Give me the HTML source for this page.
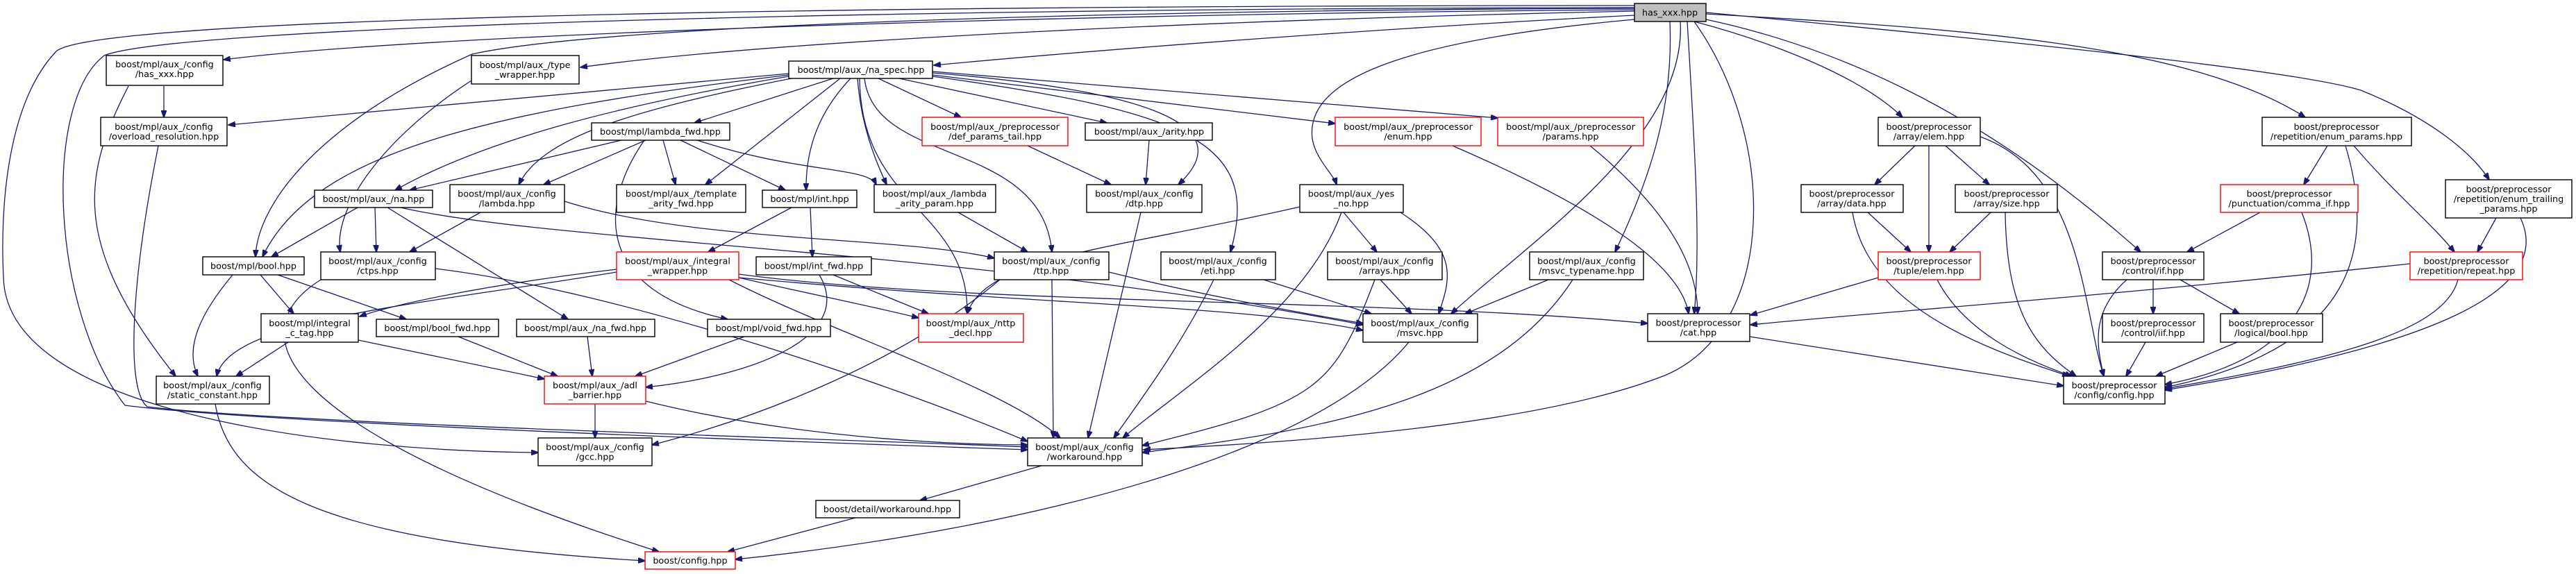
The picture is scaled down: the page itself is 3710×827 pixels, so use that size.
<!DOCTYPE html>
<html><head><meta charset="utf-8"><style>
html,body{margin:0;padding:0;background:#fff;}
svg{display:block;}
.n rect{fill:#fff;stroke:#000;stroke-width:1.4;}
.r rect{fill:#fff;stroke:#ff0000;stroke-width:1.4;}
text{font-family:"DejaVu Sans","Liberation Sans",sans-serif;font-size:12.8px;fill:#000;text-anchor:middle;}
.e path{fill:none;stroke:#191970;stroke-width:1.3;marker-end:url(#ah);}
</style></head><body>
<svg width="3710" height="827" viewBox="0 0 3710 827" xmlns="http://www.w3.org/2000/svg">
<defs><marker id="ah" markerUnits="userSpaceOnUse" markerWidth="11" markerHeight="8" refX="10" refY="4" orient="auto"><path d="M0,0 L11,4 L0,8 z" fill="#191970" stroke="#191970"/></marker></defs>
<g class="e">
<!-- main -->
<path d="M2354,14 C1500,20 600,50 322,86"/>
<path d="M2354,16 C1700,30 1100,60 836,97"/>
<path d="M2354,22 C2000,40 1600,70 1345,94"/>
<path d="M2354,12 C1500,15 850,40 680,78 C450,180 370,300 368,370"/>
<path d="M2354,8 C1200,8 120,25 80,75 C10,150 0,300 5,400 C10,600 500,650 775,652"/>
<path d="M2354,11 C1200,12 250,40 150,80 C60,150 75,450 180,584 C400,612 1250,640 1480,648"/>
<path d="M2440,31 C2550,60 2680,110 2740,169"/>
<path d="M2457,28 C2700,80 2900,200 3083,363"/>
<path d="M2457,20 C2800,40 3150,60 3320,169"/>
<path d="M2457,18 C2900,60 3300,100 3400,130 C3500,170 3560,220 3585,259"/>
<path d="M2440,31 C2560,200 2560,470 2400,540 C2200,620 1800,640 1647,648"/>
<path d="M2405,31 C2410,150 2380,250 2326,363"/>
<path d="M2430,31 C2440,200 2450,350 2440,452"/>
<path d="M2354,28 C2000,60 1880,120 1890,200 C1895,230 1920,250 1925,266"/>
<path d="M2420,31 C2430,200 2200,350 2090,452"/>
<!-- has_xxx config / overload / type_wrapper -->
<path d="M236,124 L236,169"/>
<path d="M185,124 C120,250 100,350 253,542"/>
<path d="M228,210 C190,400 180,560 212,586 C400,610 1300,636 1480,644"/>
<path d="M679,116 C550,200 480,300 490,363"/>
<!-- na_spec -->
<path d="M1136,106 L329,180"/>
<path d="M1200,113 L1000,177"/>
<path d="M1136,110 C900,150 700,200 569,274"/>
<path d="M1140,113 C900,160 780,200 747,266"/>
<path d="M1210,113 L1016,266"/>
<path d="M1225,113 C1190,150 1160,200 1161,274"/>
<path d="M1136,108 C700,160 450,220 378,370"/>
<path d="M1235,113 C1240,180 1260,230 1277,266"/>
<path d="M1265,113 L1384,169"/>
<path d="M1295,113 L1594,177"/>
<path d="M1343,105 C1650,130 1790,180 1697,266"/>
<path d="M1343,108 L1923,178"/>
<path d="M1343,103 L2157,170"/>
<path d="M1245,113 C1260,240 1500,200 1515,363"/>
<path d="M1343,110 C1700,160 1820,200 1772,363"/>
<path d="M1238,113 C1240,300 1395,300 1393,452"/>
<!-- lambda_fwd -->
<path d="M895,202 L590,274"/>
<path d="M930,202 L783,266"/>
<path d="M955,202 L973,266"/>
<path d="M980,202 L1131,274"/>
<path d="M1004,202 C1150,250 1250,240 1262,266"/>
<path d="M928,202 C860,300 860,420 1048,460"/>
<!-- na.hpp -->
<path d="M515,299 L391,370"/>
<path d="M540,299 L542,363"/>
<path d="M558,299 L818,460"/>
<path d="M577,299 C800,350 1400,360 1963,468"/>
<!-- config/lambda -->
<path d="M692,306 L590,363"/>
<path d="M813,290 C1000,350 1300,340 1432,372"/>
<!-- int -->
<path d="M1140,299 L1020,363"/>
<path d="M1167,299 L1170,370"/>
<!-- bool -->
<path d="M375,396 L423,452"/>
<path d="M400,396 L585,460"/>
<path d="M335,396 C290,450 265,500 285,542"/>
<!-- ctps -->
<path d="M462,403 C340,480 400,620 949,795"/>
<path d="M627,387 C900,420 1300,560 1480,636"/>
<!-- integral_wrapper -->
<path d="M888,388 C700,410 560,440 518,456"/>
<path d="M888,392 C600,440 330,460 312,542"/>
<path d="M1064,400 C1150,420 1250,440 1323,458"/>
<path d="M1064,395 C1400,440 2000,430 2373,466"/>
<path d="M1064,400 C1500,440 1800,440 1963,476"/>
<path d="M1050,403 C1200,480 1450,560 1527,631"/>
<!-- int_fwd -->
<path d="M1180,396 C1230,480 1100,540 930,558"/>
<path d="M1200,396 L1337,452"/>
<!-- integral_c_tag -->
<path d="M415,493 L340,542"/>
<path d="M516,490 L784,546"/>
<path d="M660,485 L803,542"/>
<path d="M846,485 L853,542"/>
<path d="M1072,485 L915,542"/>
<path d="M857,582 L857,631"/>
<path d="M930,578 C1100,620 1300,640 1480,641"/>
<path d="M310,582 C330,700 450,780 929,808"/>
<path d="M1500,671 L1325,721"/>
<path d="M1232,746 L1048,795"/>
<path d="M2029,493 C1900,650 1500,760 1059,806"/>
<!-- ttp etc -->
<path d="M1515,403 L1517,631"/>
<path d="M1440,403 C1300,520 1100,600 939,641"/>
<path d="M1597,392 C1750,430 1900,455 1963,466"/>
<path d="M1748,403 C1700,500 1640,580 1604,631"/>
<path d="M1820,403 L1975,452"/>
<path d="M1643,306 L1567,631"/>
<path d="M1655,202 L1650,266"/>
<path d="M1480,210 L1600,266"/>
<path d="M1380,306 L1480,363"/>
<path d="M1872,298 C1600,360 1420,370 1393,452"/>
<path d="M1935,306 L1983,363"/>
<path d="M1932,306 C1880,450 1700,560 1617,631"/>
<path d="M2017,306 C2100,360 2090,400 2072,452"/>
<path d="M1988,403 L2033,452"/>
<path d="M1980,403 C1920,560 1900,580 1645,642"/>
<path d="M2230,403 L2110,452"/>
<path d="M2265,403 C2150,580 1900,620 1645,652"/>
<path d="M2092,210 C2300,300 2420,380 2432,452"/>
<path d="M2290,210 C2400,300 2445,380 2445,452"/>
<!-- preprocessor -->
<path d="M2758,210 L2700,266"/>
<path d="M2778,210 L2778,363"/>
<path d="M2802,210 L2865,266"/>
<path d="M2852,197 C3000,250 3000,450 3030,542"/>
<path d="M2690,306 L2752,363"/>
<path d="M2668,306 C2690,440 2850,500 2980,542"/>
<path d="M2867,306 L2808,363"/>
<path d="M2888,306 C2890,450 2930,500 2990,542"/>
<path d="M2705,400 L2521,454"/>
<path d="M2790,403 C2830,480 2920,520 2984,542"/>
<path d="M3101,403 L3101,452"/>
<path d="M3140,403 L3225,452"/>
<path d="M3063,403 C3010,450 3020,500 3030,542"/>
<path d="M3090,493 L3062,542"/>
<path d="M3222,493 L3105,542"/>
<path d="M3255,306 L3150,363"/>
<path d="M3315,306 C3360,420 3300,520 3118,554"/>
<path d="M3352,210 L3318,266"/>
<path d="M3390,210 C3450,280 3500,320 3535,363"/>
<path d="M3378,210 C3420,350 3400,500 3118,558"/>
<path d="M3595,314 L3568,363"/>
<path d="M3630,314 C3680,420 3500,500 3118,562"/>
<path d="M3471,380 C3000,430 2700,450 2521,468"/>
<path d="M3540,403 C3520,480 3350,520 3118,560"/>
<path d="M2520,485 L2972,556"/>
</g>

<g class="n"><rect x="2354" y="5" width="103" height="26" style="fill:#bfbfbf"/><text x="2405" y="22.5">has_xxx.hpp</text></g>
<g class="n"><rect x="153" y="80" width="168" height="43"/><text x="237" y="97">boost/mpl/aux_/config</text><text x="237" y="111">/has_xxx.hpp</text></g>
<g class="n"><rect x="679" y="80" width="155" height="41"/><text x="756" y="98">boost/mpl/aux_/type</text><text x="756" y="112">_wrapper.hpp</text></g>
<g class="n"><rect x="1136" y="88" width="207" height="25"/><text x="1240" y="105">boost/mpl/aux_/na_spec.hpp</text></g>
<g class="n"><rect x="145" y="169" width="182" height="41"/><text x="236" y="187">boost/mpl/aux_/config</text><text x="236" y="201">/overload_resolution.hpp</text></g>
<g class="n"><rect x="852" y="177" width="199" height="25"/><text x="951" y="194">boost/mpl/lambda_fwd.hpp</text></g>
<g class="r"><rect x="1328" y="169" width="210" height="41"/><text x="1433" y="187">boost/mpl/aux_/preprocessor</text><text x="1433" y="201">/def_params_tail.hpp</text></g>
<g class="n"><rect x="1563" y="177" width="183" height="25"/><text x="1655" y="194">boost/mpl/aux_/arity.hpp</text></g>
<g class="r"><rect x="1923" y="169" width="210" height="41"/><text x="2028" y="187">boost/mpl/aux_/preprocessor</text><text x="2028" y="201">/enum.hpp</text></g>
<g class="r"><rect x="2157" y="169" width="210" height="41"/><text x="2262" y="187">boost/mpl/aux_/preprocessor</text><text x="2262" y="201">/params.hpp</text></g>
<g class="n"><rect x="2705" y="169" width="147" height="41"/><text x="2778" y="187">boost/preprocessor</text><text x="2778" y="201">/array/elem.hpp</text></g>
<g class="n"><rect x="3258" y="169" width="215" height="41"/><text x="3365" y="187">boost/preprocessor</text><text x="3365" y="201">/repetition/enum_params.hpp</text></g>
<g class="n"><rect x="453" y="274" width="170" height="25"/><text x="538" y="291">boost/mpl/aux_/na.hpp</text></g>
<g class="n"><rect x="648" y="266" width="165" height="40"/><text x="730" y="283.5">boost/mpl/aux_/config</text><text x="730" y="297.5">/lambda.hpp</text></g>
<g class="n"><rect x="888" y="266" width="186" height="40"/><text x="981" y="283.5">boost/mpl/aux_/template</text><text x="981" y="297.5">_arity_fwd.hpp</text></g>
<g class="n"><rect x="1098" y="274" width="136" height="25"/><text x="1166" y="291">boost/mpl/int.hpp</text></g>
<g class="n"><rect x="1259" y="266" width="175" height="40"/><text x="1346" y="283.5">boost/mpl/aux_/lambda</text><text x="1346" y="297.5">_arity_param.hpp</text></g>
<g class="n"><rect x="1565" y="266" width="166" height="40"/><text x="1648" y="283.5">boost/mpl/aux_/config</text><text x="1648" y="297.5">/dtp.hpp</text></g>
<g class="n"><rect x="1872" y="266" width="149" height="40"/><text x="1946" y="283.5">boost/mpl/aux_/yes</text><text x="1946" y="297.5">_no.hpp</text></g>
<g class="n"><rect x="2594" y="266" width="147" height="40"/><text x="2667" y="283.5">boost/preprocessor</text><text x="2667" y="297.5">/array/data.hpp</text></g>
<g class="n"><rect x="2816" y="266" width="147" height="40"/><text x="2890" y="283.5">boost/preprocessor</text><text x="2890" y="297.5">/array/size.hpp</text></g>
<g class="r"><rect x="3198" y="266" width="198" height="40"/><text x="3297" y="283.5">boost/preprocessor</text><text x="3297" y="297.5">/punctuation/comma_if.hpp</text></g>
<g class="n"><rect x="3522" y="259" width="182" height="55"/><text x="3613" y="277">boost/preprocessor</text><text x="3613" y="291">/repetition/enum_trailing</text><text x="3613" y="305">_params.hpp</text></g>
<g class="n"><rect x="292" y="370" width="146" height="26"/><text x="365" y="387.5">boost/mpl/bool.hpp</text></g>
<g class="n"><rect x="462" y="363" width="165" height="40"/><text x="544" y="380.5">boost/mpl/aux_/config</text><text x="544" y="394.5">/ctps.hpp</text></g>
<g class="r"><rect x="888" y="363" width="176" height="40"/><text x="976" y="380.5">boost/mpl/aux_/integral</text><text x="976" y="394.5">_wrapper.hpp</text></g>
<g class="n"><rect x="1089" y="370" width="166" height="26"/><text x="1172" y="387.5">boost/mpl/int_fwd.hpp</text></g>
<g class="n"><rect x="1432" y="363" width="165" height="40"/><text x="1514" y="380.5">boost/mpl/aux_/config</text><text x="1514" y="394.5">/ttp.hpp</text></g>
<g class="n"><rect x="1672" y="363" width="165" height="40"/><text x="1754" y="380.5">boost/mpl/aux_/config</text><text x="1754" y="394.5">/eti.hpp</text></g>
<g class="n"><rect x="1912" y="363" width="165" height="40"/><text x="1994" y="380.5">boost/mpl/aux_/config</text><text x="1994" y="394.5">/arrays.hpp</text></g>
<g class="n"><rect x="2203" y="363" width="164" height="40"/><text x="2285" y="380.5">boost/mpl/aux_/config</text><text x="2285" y="394.5">/msvc_typename.hpp</text></g>
<g class="r"><rect x="2705" y="363" width="147" height="40"/><text x="2778" y="380.5">boost/preprocessor</text><text x="2778" y="394.5">/tuple/elem.hpp</text></g>
<g class="n"><rect x="3028" y="363" width="146" height="40"/><text x="3101" y="380.5">boost/preprocessor</text><text x="3101" y="394.5">/control/if.hpp</text></g>
<g class="r"><rect x="3471" y="363" width="162" height="40"/><text x="3552" y="380.5">boost/preprocessor</text><text x="3552" y="394.5">/repetition/repeat.hpp</text></g>
<g class="n"><rect x="376" y="452" width="140" height="41"/><text x="446" y="470">boost/mpl/integral</text><text x="446" y="484">_c_tag.hpp</text></g>
<g class="n"><rect x="542" y="460" width="176" height="25"/><text x="630" y="477">boost/mpl/bool_fwd.hpp</text></g>
<g class="n"><rect x="744" y="460" width="199" height="25"/><text x="843" y="477">boost/mpl/aux_/na_fwd.hpp</text></g>
<g class="n"><rect x="1019" y="460" width="177" height="25"/><text x="1107" y="477">boost/mpl/void_fwd.hpp</text></g>
<g class="r"><rect x="1323" y="452" width="151" height="41"/><text x="1398" y="470">boost/mpl/aux_/nttp</text><text x="1398" y="484">_decl.hpp</text></g>
<g class="n"><rect x="1963" y="452" width="165" height="41"/><text x="2045" y="470">boost/mpl/aux_/config</text><text x="2045" y="484">/msvc.hpp</text></g>
<g class="n"><rect x="2373" y="452" width="147" height="40"/><text x="2446" y="469.5">boost/preprocessor</text><text x="2446" y="483.5">/cat.hpp</text></g>
<g class="n"><rect x="3028" y="452" width="146" height="41"/><text x="3101" y="470">boost/preprocessor</text><text x="3101" y="484">/control/iif.hpp</text></g>
<g class="n"><rect x="3198" y="452" width="147" height="41"/><text x="3271" y="470">boost/preprocessor</text><text x="3271" y="484">/logical/bool.hpp</text></g>
<g class="n"><rect x="225" y="542" width="163" height="40"/><text x="306" y="559.5">boost/mpl/aux_/config</text><text x="306" y="573.5">/static_constant.hpp</text></g>
<g class="r"><rect x="784" y="542" width="146" height="40"/><text x="857" y="559.5">boost/mpl/aux_/adl</text><text x="857" y="573.5">_barrier.hpp</text></g>
<g class="n"><rect x="2972" y="542" width="146" height="40"/><text x="3045" y="559.5">boost/preprocessor</text><text x="3045" y="573.5">/config/config.hpp</text></g>
<g class="n"><rect x="775" y="631" width="164" height="40"/><text x="857" y="648.5">boost/mpl/aux_/config</text><text x="857" y="662.5">/gcc.hpp</text></g>
<g class="n"><rect x="1480" y="631" width="165" height="40"/><text x="1562" y="648.5">boost/mpl/aux_/config</text><text x="1562" y="662.5">/workaround.hpp</text></g>
<g class="n"><rect x="1175" y="721" width="207" height="25"/><text x="1278" y="738">boost/detail/workaround.hpp</text></g>
<g class="r"><rect x="929" y="795" width="130" height="25"/><text x="994" y="812">boost/config.hpp</text></g>
</svg>
</body></html>
